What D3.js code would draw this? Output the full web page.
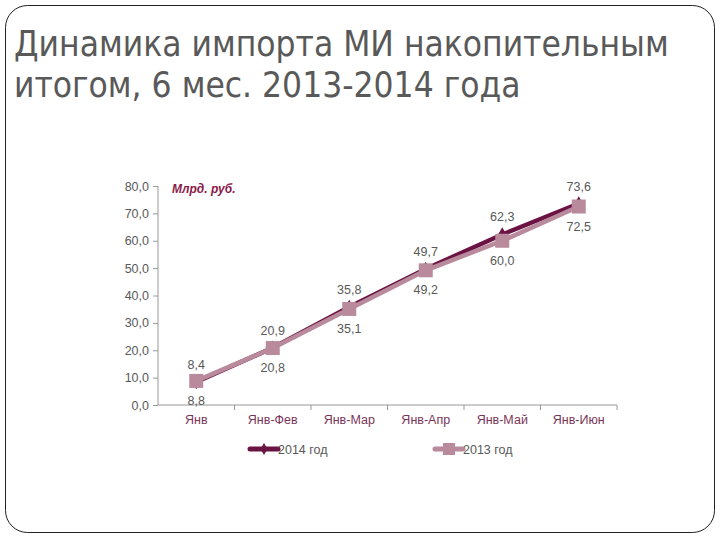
<!DOCTYPE html>
<html><head><meta charset="utf-8">
<script src="https://cdn.jsdelivr.net/npm/d3@7/dist/d3.min.js"></script>
<style>body{margin:0;background:#fff}</style>
</head><body>
<svg id="c" width="720" height="540"></svg>
<script>
const categories = ["Янв","Янв-Фев","Янв-Мар","Янв-Апр","Янв-Май","Янв-Июн"];
const values2014 = [8.4, 20.9, 35.8, 49.7, 62.3, 73.6];
const values2013 = [8.8, 20.8, 35.1, 49.2, 60.0, 72.5];
const yTicks = [0,10,20,30,40,50,60,70,80];
const seriesNames = ["2014 год","2013 год"];

const svg = d3.select("#c");
const c14 = "#6b1444", c13 = "#b88a9c";
const fmt = v => d3.format(".1f")(v).replace(".", ",");

// slide frame
svg.append("rect").attr("x",5.5).attr("y",5.5).attr("width",709).attr("height",527)
  .attr("rx",22).attr("fill","#fff").attr("stroke","#222").attr("stroke-width",1);

const title = svg.append("text").attr("font-family","'Liberation Sans Narrow','DejaVu Sans Condensed',sans-serif")
  .attr("font-size",35).attr("fill","#595959");
title.append("tspan").attr("x",14).attr("y",56).text("Динамика импорта МИ накопительным");
title.append("tspan").attr("x",14).attr("y",97).text("итогом, 6 мес. 2013-2014 года");

const x = d3.scaleBand().domain(categories).range([158,617]);
const y = d3.scaleLinear().domain([0,80]).range([405,186]);

const font = "'Liberation Sans', Arial, sans-serif";

// y axis
const ya = svg.append("g").attr("transform","translate(158,0)")
  .call(d3.axisLeft(y).tickValues(yTicks).tickSize(5).tickPadding(4).tickFormat(fmt));
ya.select(".domain").attr("stroke","#999").attr("d","M0,186V405");
ya.selectAll(".tick line").attr("stroke","#999");
ya.selectAll("text").attr("font-family",font).attr("font-size",12.5).attr("fill","#595959");

// x axis
const xa = svg.append("g").attr("transform","translate(0,405)")
  .call(d3.axisBottom(x).tickSize(0).tickPadding(10));
xa.select(".domain").attr("stroke","#999").attr("d","M158,0H617");
xa.selectAll("text").attr("font-family",font).attr("font-size",12.5).attr("fill","#7a3458");
// between-category ticks
svg.append("g").selectAll("line").data(categories).join("line")
  .attr("x1",d=>x(d)+x.bandwidth()).attr("x2",d=>x(d)+x.bandwidth())
  .attr("y1",405).attr("y2",410).attr("stroke","#999");

svg.append("text").attr("x",172).attr("y",193).attr("font-family",font)
  .attr("font-size",12).attr("font-weight","bold").attr("font-style","italic")
  .attr("fill","#8b1a4a").text("Млрд. руб.");

const cx = d => x(d) + x.bandwidth()/2;
const line = d3.line().x((d,i)=>cx(categories[i])).y(d=>y(d));

// 2014
svg.append("path").datum(values2014).attr("d",line).attr("fill","none")
  .attr("stroke",c14).attr("stroke-width",4.5);
svg.append("g").selectAll("path").data(values2014).join("path")
  .attr("d",d3.symbol(d3.symbolDiamond,60)())
  .attr("transform",(d,i)=>`translate(${cx(categories[i])},${y(d)})`).attr("fill",c14);
// 2013
svg.append("path").datum(values2013).attr("d",line).attr("fill","none")
  .attr("stroke",c13).attr("stroke-width",4.5);
svg.append("g").selectAll("rect").data(values2013).join("rect")
  .attr("x",(d,i)=>cx(categories[i])-7).attr("y",d=>y(d)-7).attr("width",14).attr("height",14)
  .attr("fill",c13);

// labels
svg.append("g").selectAll("text").data(values2014).join("text")
  .attr("x",(d,i)=>cx(categories[i])).attr("y",d=>y(d)-13).attr("text-anchor","middle")
  .attr("font-family",font).attr("font-size",12.5).attr("fill","#595959").text(fmt);
svg.append("g").selectAll("text").data(values2013).join("text")
  .attr("x",(d,i)=>cx(categories[i])).attr("y",d=>y(d)+24).attr("text-anchor","middle")
  .attr("font-family",font).attr("font-size",12.5).attr("fill","#595959").text(fmt);

// legend
const lg = [{name:seriesNames[0],col:c14,x0:248,sym:"d"},{name:seriesNames[1],col:c13,x0:433,sym:"s"}];
lg.forEach(l=>{
  svg.append("line").attr("x1",l.x0+2).attr("x2",l.x0+30).attr("y1",449).attr("y2",449)
    .attr("stroke",l.col).attr("stroke-width",5).attr("stroke-linecap","round");
  if(l.sym==="d") svg.append("path").attr("d",d3.symbol(d3.symbolDiamond,40)())
    .attr("transform",`translate(${l.x0+16},449)`).attr("fill",l.col);
  else svg.append("rect").attr("x",l.x0+10).attr("y",443).attr("width",12).attr("height",12).attr("fill",l.col);
  svg.append("text").attr("x",l.x0+30).attr("y",454).attr("font-family",font)
    .attr("font-size",12.5).attr("fill","#595959").text(l.name);
});
</script>
</body></html>
